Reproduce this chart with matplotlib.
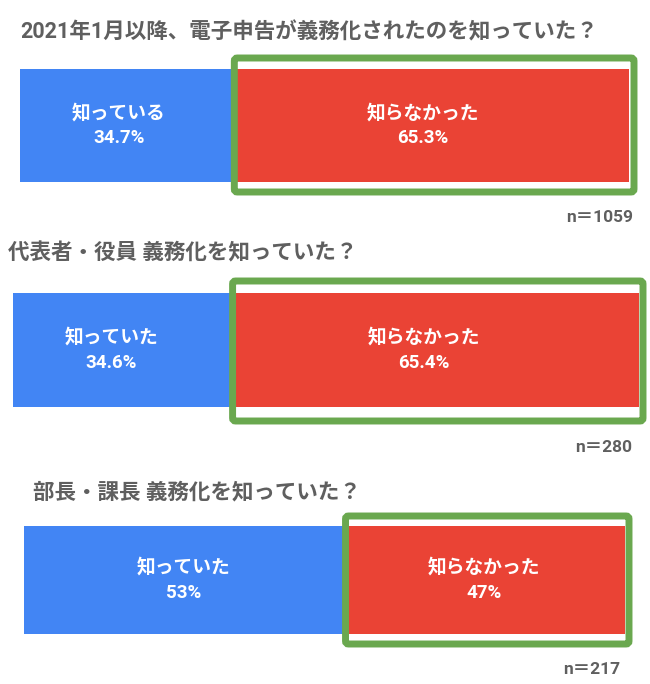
import matplotlib.pyplot as plt
from matplotlib.patches import FancyBboxPatch
from matplotlib.transforms import IdentityTransform

plt.rcParams['font.family'] = ['Roboto', 'Noto Sans CJK JP', 'DejaVu Sans']

# data
titles = ['2021年1月以降、電子申告が義務化されたのを知っていた？',
          '代表者・役員 義務化を知っていた？',
          '部長・課長 義務化を知っていた？']
known_labels = ['知っている', '知っていた', '知っていた']
unknown_labels = ['知らなかった', '知らなかった', '知らなかった']
known_pct = [34.7, 34.6, 53]
unknown_pct = [65.3, 65.4, 47]
sample_n = [1059, 280, 217]

BLUE = '#4285f4'
RED = '#ea4335'
GREEN = '#6aa84f'
GRAY = '#5f5f5f'

W, H = 650, 684
# bar boxes in pixels: left, right, top, bottom
bar_px = [(20, 629, 69, 182), (13, 639, 293, 407), (24, 625, 526, 634)]
# green frame padding (top, bottom, right) in px
frame_pad = [(11, 10, 5), (12, 14, 4), (10, 10, 4)]
title_pos = [(20, 32), (8, 253), (33, 492)]
n_pos = [(633, 217), (632, 447), (620, 670)]
label_dx = [-7, -10, 0]  # px

fig = plt.figure(figsize=(W / 100, H / 100), dpi=100)

for i in range(3):
    l, r, t, b = bar_px[i]
    ax = fig.add_axes([l / W, 1 - b / H, (r - l) / W, (b - t) / H])
    ax.barh(0, known_pct[i], height=1, color=BLUE, left=0)
    ax.barh(0, unknown_pct[i], height=1, color=RED, left=known_pct[i])
    ax.set_xlim(0, known_pct[i] + unknown_pct[i])
    ax.set_ylim(-0.5, 0.5)
    ax.axis('off')

    # labels
    centers = [known_pct[i] / 2, known_pct[i] + unknown_pct[i] / 2]
    names = [known_labels[i], unknown_labels[i]]
    vals = [known_pct[i], unknown_pct[i]]
    for cx, name, v in zip(centers, names, vals):
        dx = label_dx[i] * 0.72
        ax.annotate(name, xy=(cx, 0), xytext=(dx, 9), textcoords='offset points',
                    ha='center', va='center', color='white', fontsize=13.5,
                    fontweight='bold')
        ax.annotate(f'{v:g}%', xy=(cx, 0), xytext=(dx, -9), textcoords='offset points',
                    ha='center', va='center', color='white', fontsize=13.5,
                    fontweight='bold')

    # green frame around the "didn't know" segment
    pt, pb, pr = frame_pad[i]
    x0, y0 = ax.transData.transform((known_pct[i], -0.5))
    x1, y1 = ax.transData.transform((known_pct[i] + unknown_pct[i], 0.5))
    x0 += 3
    frame = FancyBboxPatch((x0, y0 - pb), (x1 + pr) - x0, (y1 + pt) - (y0 - pb),
                           boxstyle='round,pad=0,rounding_size=3',
                           fill=False, edgecolor=GREEN, linewidth=5.0,
                           transform=IdentityTransform())
    fig.add_artist(frame)

    tx, ty = title_pos[i]
    fig.text(tx / W, 1 - ty / H, titles[i], ha='left', va='center',
             fontsize=15.5, fontweight='bold', color=GRAY)
    nx, ny = n_pos[i]
    fig.text(nx / W, 1 - ny / H, f'n＝{sample_n[i]}', ha='right', va='center',
             fontsize=12.5, fontweight='bold', color=GRAY)

fig.savefig('out.png', dpi=100, facecolor='white')
